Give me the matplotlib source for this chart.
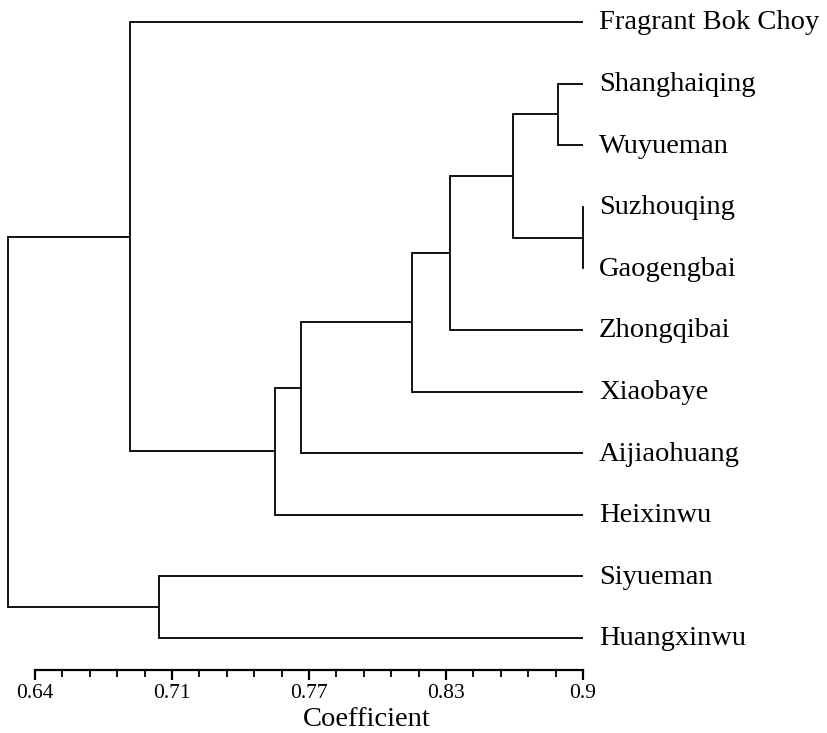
#dendrogram of coefficient values
import matplotlib
matplotlib.use("Agg")
import matplotlib.pyplot as plt
from matplotlib.ticker import FixedLocator

plt.rcParams['font.family'] = ['Liberation Serif', 'DejaVu Serif']

#leaf names, top to bottom
leaves = ["Fragrant Bok Choy", "Shanghaiqing", "Wuyueman", "Suzhouqing",
          "Gaogengbai", "Zhongqibai", "Xiaobaye", "Aijiaohuang",
          "Heixinwu", "Siyueman", "Huangxinwu"]

#merges: node ids 0..10 are leaves, new nodes start at 11
merge_a = [3, 1, 12, 13, 14, 15, 16, 9, 0, 19]
merge_b = [4, 2, 11, 5, 6, 7, 8, 10, 17, 18]
merge_height = [0.900, 0.888, 0.867, 0.837, 0.819, 0.766, 0.754, 0.699, 0.685, 0.627]

major_ticks = [0.64, 0.705, 0.77, 0.835, 0.90]
major_labels = ["0.64", "0.71", "0.77", "0.83", "0.9"]
leaf_end = 0.90

W, H = 827, 733
fig = plt.figure(figsize=(W / 100, H / 100), dpi=100)
ax = fig.add_axes([35 / W, (H - 670) / H, (583 - 35) / W, 670 / H])

#position of every node
xs = {i: leaf_end for i in range(len(leaves))}
ys = {i: float(i) for i in range(len(leaves))}

lw = 1.3
for k, (a, b, h) in enumerate(zip(merge_a, merge_b, merge_height)):
    node = len(leaves) + k
    ax.plot([h, h], [ys[a], ys[b]], color="black", lw=lw, clip_on=False,
            solid_capstyle="projecting")
    for c in (a, b):
        ax.plot([h, xs[c]], [ys[c], ys[c]], color="black", lw=lw, clip_on=False,
                solid_capstyle="butt")
    xs[node] = h
    ys[node] = (ys[a] + ys[b]) / 2

for i, name in enumerate(leaves):
    ax.annotate(name, xy=(leaf_end, i), xytext=(16, -1), textcoords="offset pixels",
                ha="left", va="center", fontsize=20.5, annotation_clip=False)

ax.set_xlim(0.64, 0.90)
ax.set_ylim(10.52, -0.357)

for s in ("top", "right", "left"):
    ax.spines[s].set_visible(False)
ax.spines["bottom"].set_linewidth(1.6)
ax.set_yticks([])

ax.set_xticks(major_ticks)
ax.set_xticklabels(major_labels, fontsize=15.5)
minor = [0.64 + 0.013 * i for i in range(21)]
ax.xaxis.set_minor_locator(FixedLocator(minor))
ax.tick_params(axis="x", which="major", length=7, width=1.6, pad=3)
ax.tick_params(axis="x", which="minor", length=5, width=1.3)

fig.text(367 / W, 1 - 719 / H, "Coefficient", ha="center", va="center", fontsize=20.5)

fig.savefig("out.png", dpi=100)
